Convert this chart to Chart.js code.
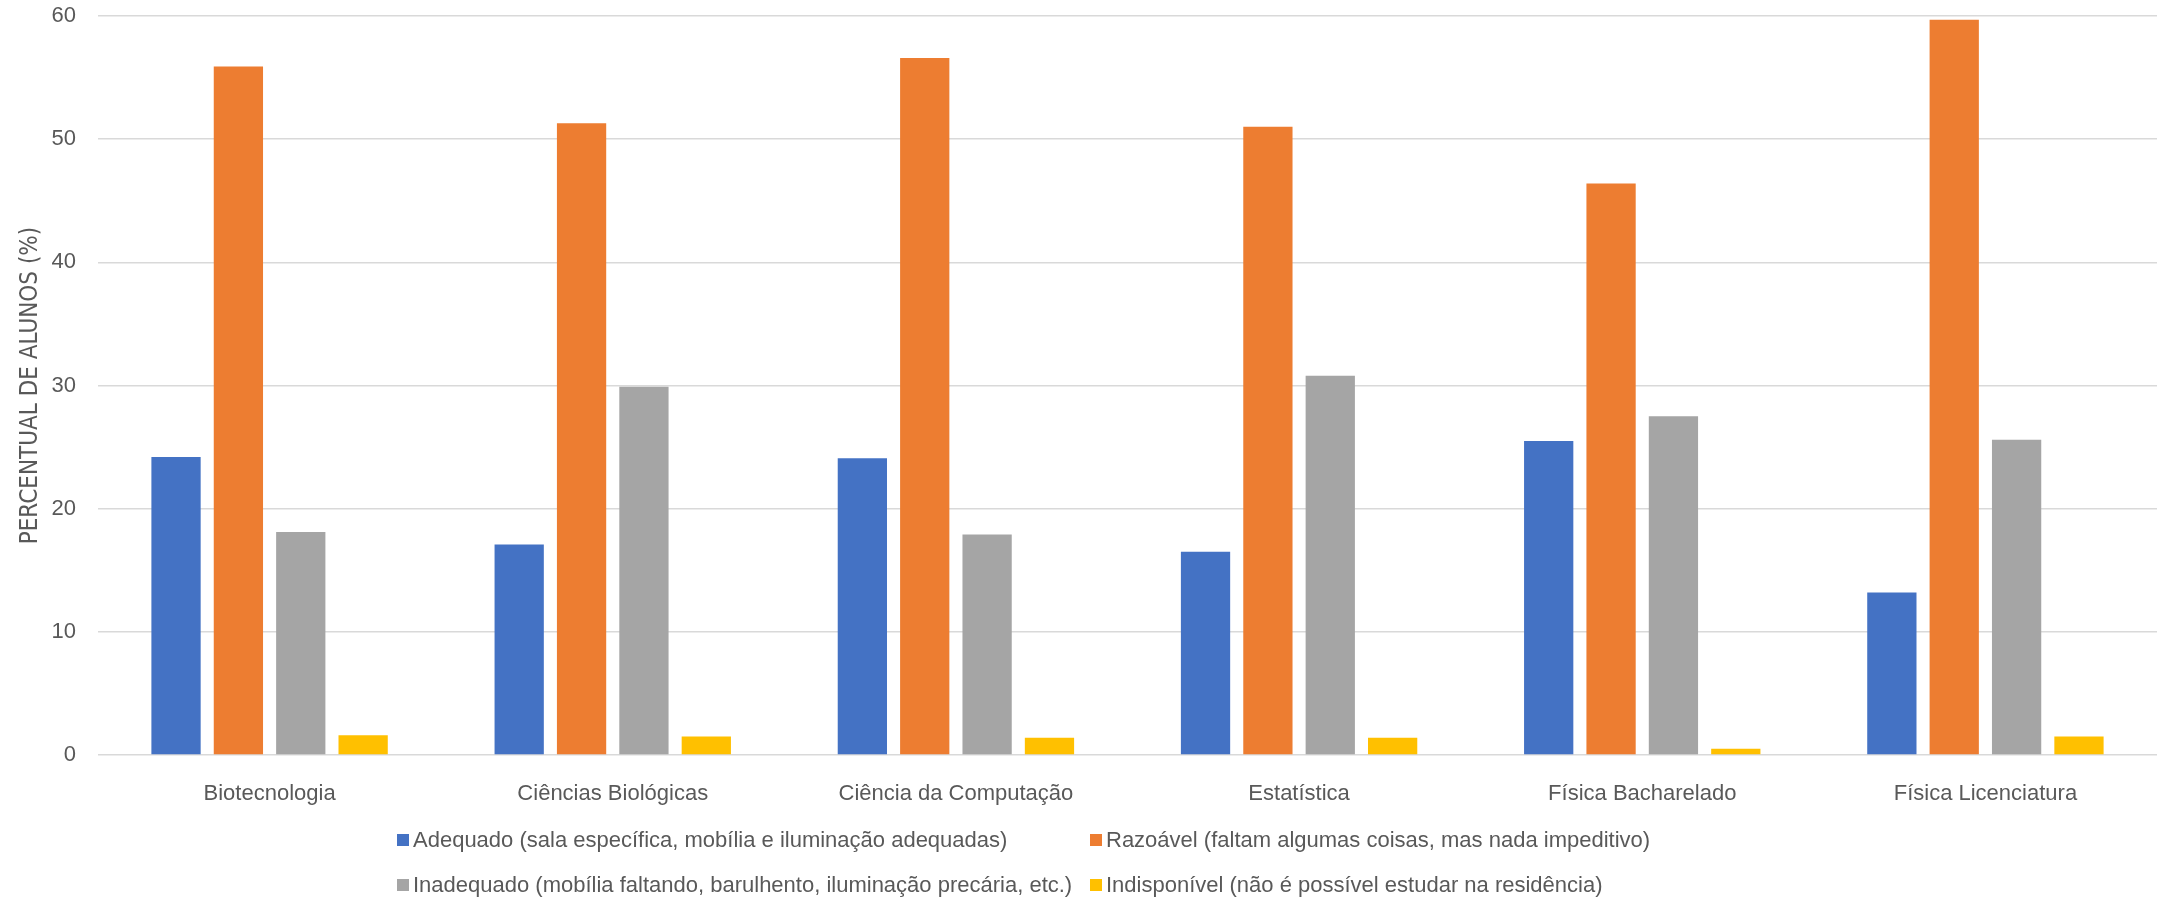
<!DOCTYPE html>
<html>
<head>
<meta charset="utf-8">
<script src="https://cdn.jsdelivr.net/npm/chart.js@4"></script>
<style>
  html,body{margin:0;padding:0;background:#fff;}
  #wrap{width:2163px;height:899px;}
</style>
</head>
<body>
<div id="wrap"><canvas id="myChart" width="2163" height="899"></canvas></div>
<script>
const cursos=['Biotecnologia','Ciências Biológicas','Ciência da Computação','Estatística','Física Bacharelado','Física Licenciatura'];
const adequado=[24.2,17.1,24.1,16.5,25.5,13.2];
const razoavel=[55.9,51.3,56.6,51.0,46.4,59.7];
const inadequado=[18.1,29.9,17.9,30.8,27.5,25.6];
const indisponivel=[1.6,1.5,1.4,1.4,0.5,1.5];
const nomes=[
  'Adequado (sala específica, mobília e iluminação adequadas)',
  'Razoável (faltam algumas coisas, mas nada impeditivo)',
  'Inadequado (mobília faltando, barulhento, iluminação precária, etc.)',
  'Indisponível (não é possível estudar na residência)'
];
const cores=['#4472C4','#ED7D31','#A5A5A5','#FFC000'];
const yTicks=[0,10,20,30,40,50,60];

const fonte='"Liberation Sans", Arial, sans-serif';
const texto='#595959';

// legenda em duas colunas, como no Excel
const legendaGrade={
  id:'legendaGrade',
  afterDraw(chart){
    const ctx=chart.ctx;
    const cols=[397,1090];
    const rows=[840,885];
    ctx.save();
    ctx.font='22px '+fonte;
    ctx.textBaseline='middle';
    chart.data.datasets.forEach((ds,i)=>{
      const x=cols[i%2], y=rows[Math.floor(i/2)];
      ctx.fillStyle=ds.backgroundColor;
      ctx.fillRect(x,y-6,12,12);
      ctx.fillStyle=texto;
      ctx.fillText(ds.label,x+16,y+1);
    });
    ctx.restore();
  }
};

window.addEventListener('load',()=>{
  const ctx=document.getElementById('myChart');
  new Chart(ctx,{
    type:'bar',
    data:{
      labels:cursos,
      datasets:[adequado,razoavel,inadequado,indisponivel].map((d,i)=>({
        label:nomes[i],
        data:d,
        backgroundColor:cores[i],
        borderWidth:0
      }))
    },
    options:{
      responsive:false,
      animation:false,
      layout:{padding:{left:0,right:6,top:16,bottom:0}},
      datasets:{bar:{categoryPercentage:0.727,barPercentage:0.79}},
      plugins:{legend:{display:false},tooltip:{enabled:false}},
      scales:{
        x:{
          grid:{display:false},
          border:{display:false},
          ticks:{color:texto,font:{family:fonte,size:22},padding:18,maxRotation:0},
          afterFit(s){s.height=144;}
        },
        y:{
          min:0,max:60,
          afterBuildTicks(s){s.ticks=yTicks.map(v=>({value:v}));},
          grid:{color:'#D9D9D9',lineWidth:1.5,drawTicks:false},
          border:{display:false},
          ticks:{color:texto,font:{family:fonte,size:22},padding:22},
          title:{display:true,text:'PERCENTUAL DE ALUNOS (%)',color:texto,
                 font:{family:'"Liberation Sans Narrow", "DejaVu Sans Condensed", sans-serif',size:24},padding:{top:16,bottom:0}},
          afterFit(s){s.width=98;s.paddingTop=0;s.paddingBottom=0;}
        }
      }
    },
    plugins:[legendaGrade]
  });
});
</script>
</body>
</html>
